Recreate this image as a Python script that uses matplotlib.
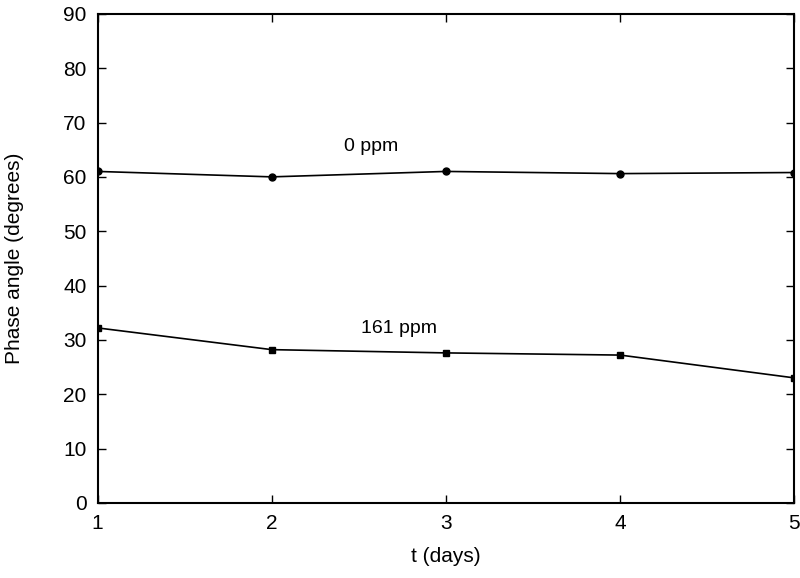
import matplotlib

matplotlib.use("Agg")
import matplotlib.pyplot as plt

days = [1, 2, 3, 4, 5]
phase_0ppm = [61.0, 60.0, 61.0, 60.6, 60.8]
phase_161ppm = [32.2, 28.2, 27.6, 27.2, 23.0]

plt.rcParams.update(
    {
        "font.family": ["Liberation Sans", "DejaVu Sans"],
        "font.size": 14,
        "xtick.direction": "in",
        "ytick.direction": "in",
        "xtick.top": True,
        "ytick.right": True,
    }
)

fig = plt.figure(figsize=(8, 5.78), dpi=100)
ax = fig.add_axes([0.122, 0.13, 0.871, 0.846])

ax.plot(days, phase_0ppm, color="black", lw=1.2, marker="o", ms=5)
ax.plot(days, phase_161ppm, color="black", lw=1.2, marker="s", ms=5)
ax.text(2.57, 65.5, "0 ppm", ha="center", va="center", fontsize=14)
ax.text(2.73, 32.0, "161 ppm", ha="center", va="center", fontsize=14)

ax.set_xlim(1, 5)
ax.set_ylim(0, 90)
ax.set_xticks(days)
ax.set_yticks(range(0, 91, 10))
ax.tick_params(length=6, width=1, pad=8, labelsize=15)
for s in ax.spines.values():
    s.set_linewidth(1.5)
ax.set_xlabel("t (days)", fontsize=15, labelpad=10)
ax.set_ylabel("Phase angle (degrees)", fontsize=15, labelpad=28)

fig.savefig("out.png", dpi=100)
